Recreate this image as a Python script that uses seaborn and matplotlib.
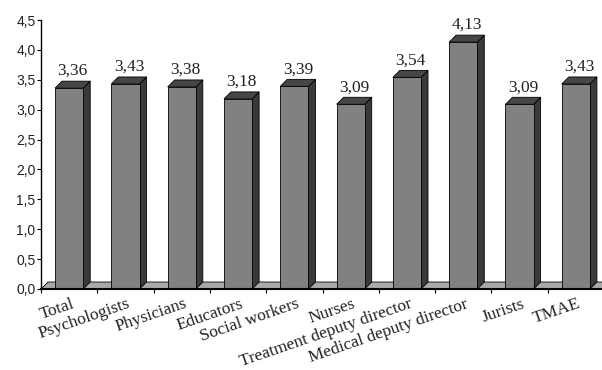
import seaborn as sns
import matplotlib.pyplot as plt
import matplotlib.transforms as mtransforms
from matplotlib.patches import Polygon
from matplotlib.ticker import FuncFormatter, MultipleLocator
import numpy as np

categories = ["Total", "Psychologists", "Physicians", "Educators", "Social workers",
              "Nurses", "Treatment deputy director", "Medical deputy director",
              "Jurists", "TMAE"]
values = [3.36, 3.43, 3.38, 3.18, 3.39, 3.09, 3.54, 4.13, 3.09, 3.43]

sns.set_style("white")
plt.rcParams['font.family'] = ['Liberation Serif', 'DejaVu Serif']

front_col = '#818181'
side_col = '#3a3a3a'
top_col = '#464646'
floor_col = '#a9a9a9'

fig = plt.figure(figsize=(6.02, 3.70), dpi=100)
ax = fig.add_axes([41 / 602, 81 / 370, 563 / 602, 269 / 370])

sns.barplot(x=categories, y=values, color=front_col, saturation=1, width=0.5,
            edgecolor='black', linewidth=0.6, ax=ax, zorder=3)

ax.set_xlim(-0.5, len(categories) - 0.5)
ax.set_ylim(0, 4.5)

# depth of the fake 3d effect, in data units (approx 7 px each way)
dx = 0.124
dy = 0.117

# floor plane
x0, x1 = ax.get_xlim()
floor = Polygon([(x0, 0), (x1, 0), (x1 + dx, dy), (x0 + dx, dy)], closed=True,
                facecolor=floor_col, edgecolor='black', linewidth=0.6,
                zorder=1, clip_on=False)
ax.add_patch(floor)

for p, v in zip(ax.patches, values):
    xl = p.get_x()
    w = p.get_width()
    h = p.get_height()
    xr = xl + w
    side = Polygon([(xr, 0), (xr + dx, dy), (xr + dx, h + dy), (xr, h)], closed=True,
                   facecolor=side_col, edgecolor='black', linewidth=0.6, zorder=2)
    top = Polygon([(xl, h), (xr, h), (xr + dx, h + dy), (xl + dx, h + dy)], closed=True,
                  facecolor=top_col, edgecolor='black', linewidth=0.6, zorder=4)
    ax.add_patch(side)
    ax.add_patch(top)
    ax.annotate(f"{v:.2f}".replace('.', ','), (xl + w / 2 + dx / 2, h + dy),
                xytext=(0, 1.5), textcoords='offset points', ha='center', va='bottom',
                fontsize=12.5, color='#222222', zorder=5)

# axes styling
for s in ['top', 'right']:
    ax.spines[s].set_visible(False)
ax.spines['left'].set_color('black')
ax.spines['bottom'].set_color('black')
ax.spines['left'].set_linewidth(1.0)
ax.spines['bottom'].set_linewidth(1.5)
ax.spines['bottom'].set_zorder(6)

ax.yaxis.set_major_locator(MultipleLocator(0.5))
ax.yaxis.set_major_formatter(FuncFormatter(lambda y, _: f"{y:.1f}".replace('.', ',')))
ax.tick_params(axis='y', direction='out', length=3, width=0.8, color='black',
               labelsize=10, pad=1, left=True)
for lab in ax.get_yticklabels():
    lab.set_family(['Liberation Sans', 'DejaVu Sans'])
    lab.set_color('#222222')

ax.set_xticks(np.arange(len(categories)))
ax.set_xticklabels(categories)
ax.set_xticks(np.arange(len(categories) + 1) - 0.5, minor=True)
ax.tick_params(axis='x', which='major', length=0, pad=5, labelsize=12.5)
ax.tick_params(axis='x', which='minor', direction='out', length=3, width=0.8,
               color='black', bottom=True)
shift = mtransforms.ScaledTranslation(7 / 100, 0, fig.dpi_scale_trans)
for lab in ax.get_xticklabels():
    lab.set_rotation(19)
    lab.set_ha('right')
    lab.set_color('#222222')
    lab.set_transform(lab.get_transform() + shift)

ax.set_xlabel('')
ax.set_ylabel('')
ax.grid(False)

fig.savefig('out.png', dpi=100)
